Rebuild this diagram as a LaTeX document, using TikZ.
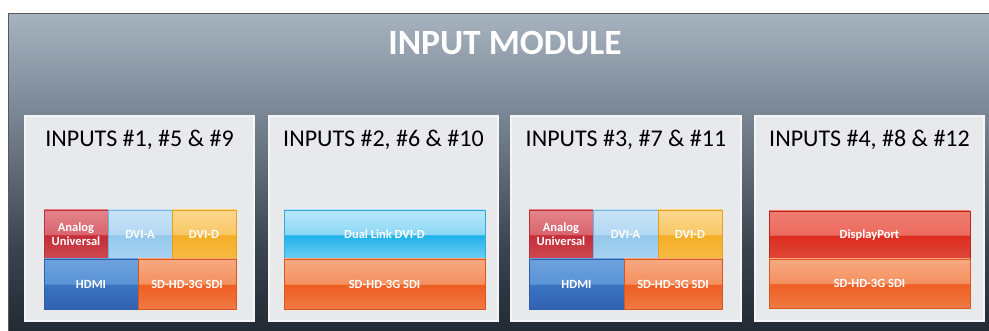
\documentclass[tikz,border=0pt]{standalone}
\usepackage{fontspec}
\setmainfont{Carlito}
\definecolor{ANt}{HTML}{E38088}\definecolor{ANl}{HTML}{D9656E}\definecolor{ANm}{HTML}{C42C37}\definecolor{ANb}{HTML}{CE4952}\definecolor{ANd}{HTML}{B8303A}
\definecolor{DAt}{HTML}{C6E3F7}\definecolor{DAl}{HTML}{B3D8F2}\definecolor{DAm}{HTML}{93C8EC}\definecolor{DAb}{HTML}{A9D3F0}\definecolor{DAd}{HTML}{6FB3E3}
\definecolor{DDt}{HTML}{FBD689}\definecolor{DDl}{HTML}{F9C766}\definecolor{DDm}{HTML}{F4AE25}\definecolor{DDb}{HTML}{F6BB45}\definecolor{DDd}{HTML}{E6A020}
\definecolor{HDt}{HTML}{6AA0DC}\definecolor{HDl}{HTML}{5B93D5}\definecolor{HDm}{HTML}{3B73C1}\definecolor{HDb}{HTML}{3163B2}\definecolor{HDd}{HTML}{2F5FA8}
\definecolor{SDt}{HTML}{F7A67E}\definecolor{SDl}{HTML}{F4905F}\definecolor{SDm}{HTML}{EE5E22}\definecolor{SDb}{HTML}{F07A45}\definecolor{SDd}{HTML}{D9561E}
\definecolor{DLt}{HTML}{B4E6FA}\definecolor{DLl}{HTML}{8CD7F5}\definecolor{DLm}{HTML}{1FB2E9}\definecolor{DLb}{HTML}{6DCEF2}\definecolor{DLd}{HTML}{3AA6D9}
\definecolor{DPt}{HTML}{EF7A6E}\definecolor{DPl}{HTML}{EC6A5E}\definecolor{DPm}{HTML}{DC2D20}\definecolor{DPb}{HTML}{E0483A}\definecolor{DPd}{HTML}{B8281C}
\definecolor{BGa}{HTML}{222A33}\definecolor{BGb}{HTML}{3A444F}\definecolor{BGc}{HTML}{7C8895}\definecolor{BGd}{HTML}{A7B2BF}
\definecolor{PNL}{HTML}{E8E9EB}\definecolor{PNLd}{HTML}{F4F5F6}
\newcommand\glossdef[1]{\pgfdeclareverticalshading{gloss#1}{100bp}{color(0bp)=(#1b); color(25bp)=(#1b); color(49.3bp)=(#1m); color(50.2bp)=(#1l); color(72bp)=(#1t); color(100bp)=(#1t)}}
\glossdef{AN}\glossdef{DA}\glossdef{DD}\glossdef{HD}\glossdef{SD}\glossdef{DL}\glossdef{DP}
\pgfdeclareverticalshading{bgshade}{100bp}{color(0bp)=(BGa); color(25bp)=(BGa); color(38bp)=(BGb); color(60bp)=(BGc); color(75bp)=(BGd); color(100bp)=(BGd)}
\newcommand\blk[7]{\node[blockbox, shading=gloss#6, draw=#6d, minimum width={#4-#2}, minimum height={#5-#3}] (#1) at ({(#2+#4)/2},{(#3+#5)/2}) {#7};}
\newcommand\pnl[6]{\node[panelbox, minimum width={#4-#2}, minimum height={#5-#3}] (#1) at ({(#2+#4)/2},{(#3+#5)/2}) {};
\node[paneltitle] (#1t) at ({(#2+#4)/2},147) {#6};}
\begin{document}
\begin{tikzpicture}[x=1pt,y=-1pt,
  blockbox/.style={rectangle, inner sep=0pt, outer sep=0pt, line width=0.8pt, text=white, font=\bfseries\fontsize{12.5}{14}\selectfont, align=center},
  panelbox/.style={rectangle, inner sep=0pt, outer sep=0pt, fill=PNL, draw=PNLd, line width=1.5pt},
  paneltitle/.style={anchor=base, inner sep=0pt, text=black, font=\fontsize{24}{28}\selectfont},
  maintitle/.style={anchor=base, inner sep=0pt, text=white, font=\bfseries\fontsize{35.5}{40}\selectfont}]
\useasboundingbox (0,0) rectangle (989,331);
\fill[white] (0,0) rectangle (989,331);
\node[rectangle, inner sep=0pt, outer sep=0pt, shading=bgshade, minimum width=981pt, minimum height=317pt] (module) at (498.5,172.5) {};
\draw[black!65, line width=1pt] (module.south west) -- (module.north west) -- (module.north east);
\node[maintitle] (title) at (505,55) {INPUT MODULE};
\pnl{p1}{25}{116}{254}{321}{INPUTS \#1, \#5 \& \#9}
\pnl{p2}{269}{116}{498}{321}{INPUTS \#2, \#6 \& \#10}
\pnl{p3}{511}{116}{741}{321}{INPUTS \#3, \#7 \& \#11}
\pnl{p4}{755}{116}{984}{321}{INPUTS \#4, \#8 \& \#12}
% panel 1
\blk{a1}{44}{210}{108}{259}{AN}{Analog\\Universal}
\blk{va1}{108}{210}{172}{259}{DA}{DVI-A}
\blk{vd1}{172}{210}{236}{259}{DD}{DVI-D}
\blk{h1}{44}{259}{138}{309}{HD}{HDMI}
\blk{s1}{138}{259}{236}{309}{SD}{SD-HD-3G SDI}
% panel 2
\blk{dl2}{284}{210}{485}{259}{DL}{Dual Link DVI-D}
\blk{s2}{284}{259}{485}{309}{SD}{SD-HD-3G SDI}
% panel 3
\blk{a3}{529}{210}{593}{259}{AN}{Analog\\Universal}
\blk{va3}{593}{210}{658}{259}{DA}{DVI-A}
\blk{vd3}{658}{210}{722}{259}{DD}{DVI-D}
\blk{h3}{529}{259}{624}{309}{HD}{HDMI}
\blk{s3}{624}{259}{722}{309}{SD}{SD-HD-3G SDI}
% panel 4
\blk{dp4}{769}{211}{970}{259}{DP}{DisplayPort}
\blk{s4}{769}{259}{970}{308}{SD}{SD-HD-3G SDI}
\end{tikzpicture}
\end{document}
